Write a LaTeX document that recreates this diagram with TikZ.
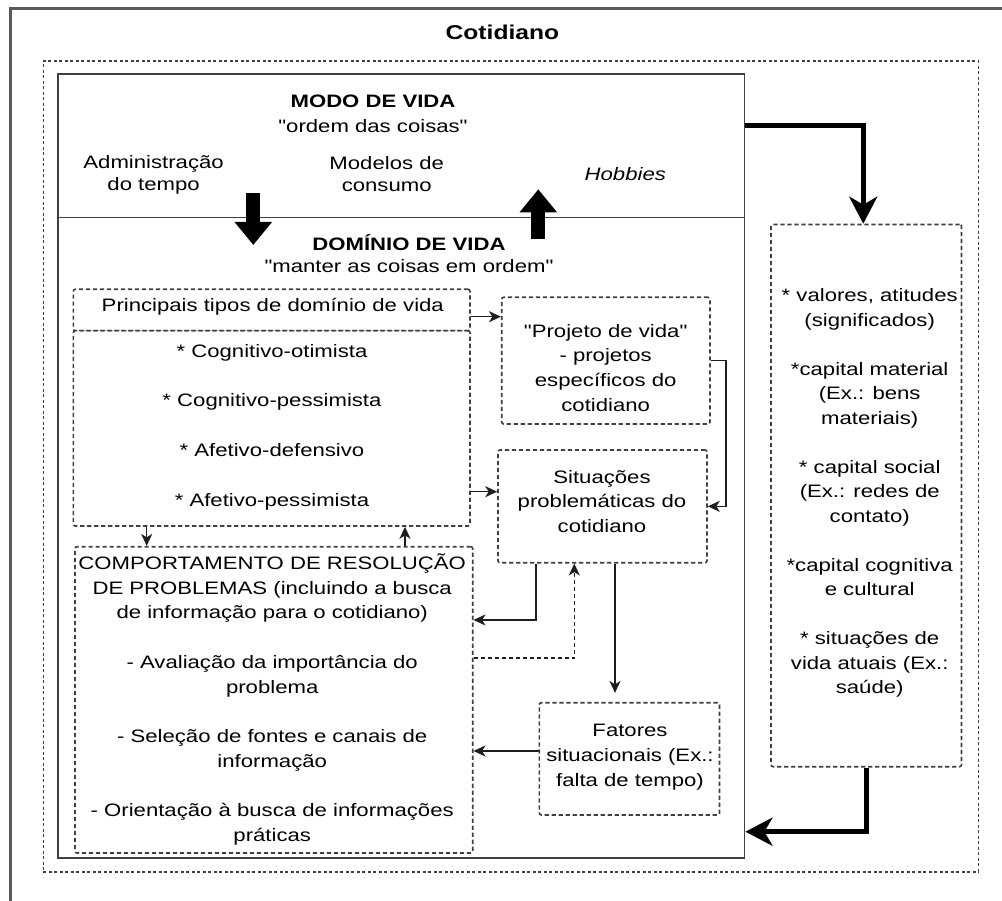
\documentclass[tikz,border=0pt]{standalone}
\usepackage{fontspec}
\setmainfont{Liberation Sans}[FakeStretch=1.23,Ligatures=TeXOff]
\usetikzlibrary{arrows.meta,fit}
\newcommand\fl{\rule{0pt}{17pt}}
\newcommand\fs{\fontsize{18}{24.7}\selectfont}
\definecolor{boxgray}{HTML}{404040}
\definecolor{linegray}{HTML}{1E1E1E}
\begin{document}
\begin{tikzpicture}[x=1pt,y=-1pt,
  txt/.style={inner sep=0pt,anchor=north,align=center,font=\fs,text=black},
  dbox/.style={draw=boxgray,line width=1.6pt,dash pattern=on 4.2pt off 2.8pt,rounded corners=2pt,inner sep=0pt},
  sbox/.style={draw=boxgray,line width=1.8pt,inner sep=0pt},
  conn/.style={draw=linegray,line width=1.4pt,-{Stealth[length=12pt,width=11pt,inset=3.5pt]}},
  dconn/.style={conn,dash pattern=on 4.2pt off 2.8pt},
  bigconn/.style={draw=black,line width=5.5pt,-{Stealth[length=27pt,width=28pt,inset=8pt]}},
  blockarrow/.style={draw=black,line width=14pt,-{Triangle[length=23pt,width=36pt]}},
]
\useasboundingbox (0,0) rectangle (1002,901);
\fill[white] (0,0) rectangle (1002,901);
% outer frame (cropped)
\draw[gray!70!black,line width=2.2pt] (1002,8.5) -- (10.5,8.5) -- (10.5,901);
\node[font=\fontsize{20}{24}\selectfont\bfseries,inner sep=0pt,anchor=base] (title) at (502.4,40) {Cotidiano};
% containers
\node[draw=boxgray,line width=1.6pt,dash pattern=on 3pt off 2.5pt,inner sep=0pt,fit={(43.3,61) (978.3,871.7)}] (cot) {};
\node[sbox,fit={(58,74) (744.5,858.3)}] (vida) {};
\coordinate (ydiv) at (0,217.5);
\draw[boxgray,line width=1.8pt] (vida.west |- ydiv) -- (vida.east |- ydiv);
% modo de vida texts
\node[txt] (modo) at (373,90.3) {\fl\bfseries MODO DE VIDA\\\mdseries "ordem das coisas"};
\node[txt,font=\fontsize{18}{22.4}\selectfont] (adm) at (153.6,151.3) {\fl Administração\\do tempo};
\node[txt,font=\fontsize{18}{22.4}\selectfont] (mod) at (386.7,152.3) {\fl Modelos de\\consumo};
\node[txt,font=\fs\itshape] (hob) at (625.3,163) {\fl Hobbies};
\draw[blockarrow] (253.3,193.3) -- (253.3,245);
\draw[blockarrow] (538.3,239.3) -- (538.3,189.3);
\node[txt,font=\fontsize{18}{22}\selectfont] (dom) at (409,233) {\fl\bfseries DOMÍNIO DE VIDA\\\mdseries "manter as coisas em ordem"};
% inner boxes
\node[dbox,fit={(73.3,289.3) (470,330.7)}] (pri) {};
\node[dbox,fit={(73.3,330.7) (470,526)}] (tipos) {};
\node[dbox,fit={(75,546.7) (472.7,853)}] (comp) {};
\node[dbox,fit={(501.7,297.3) (710,424)}] (proj) {};
\node[dbox,fit={(498,450) (707,562.7)}] (sit) {};
\node[dbox,fit={(539.3,702.7) (719.5,815)}] (fat) {};
\node[dbox,fit={(771,224.5) (961.5,766.7)}] (rec) {};
% box texts
\node[txt] (pritxt) at (272.8,294.7) {\fl Principais tipos de domínio de vida};
\node[txt] (tipostxt) at (272,340) {\fl * Cognitivo-otimista\\[25pt]* Cognitivo-pessimista\\[25pt]* Afetivo-defensivo\\[25pt]* Afetivo-pessimista};
\node[txt] (projtxt) at (605.7,320) {\fl "Projeto de vida"\\- projetos\\específicos do\\cotidiano};
\node[txt] (sittxt) at (602,466) {\fl Situações\\problemáticas do\\cotidiano};
\node[txt] (fattxt) at (630,719.7) {\fl Fatores\\situacionais (Ex.:\\falta de tempo)};
\node[txt] (comptxt) at (272.2,552.3) {\fl COMPORTAMENTO DE RESOLUÇÃO\\DE PROBLEMAS (incluindo a busca\\de informação para o cotidiano)\\[24.7pt]- Avaliação da importância do\\problema\\[24.7pt]- Seleção de fontes e canais de\\informação\\[24.7pt]- Orientação à busca de informações\\práticas};
\node[txt,font=\fontsize{18}{24.5}\selectfont] (rectxt) at (869.7,284.7) {\fl * valores, atitudes\\(significados)\\[24.5pt]*capital material\\(Ex.: bens\\materiais)\\[24.5pt]* capital social\\(Ex.: redes de\\contato)\\[24.5pt]*capital cognitiva\\e cultural\\[24.5pt]* situações de\\vida atuais (Ex.:\\saúde)};
% connectors
\draw[conn] ([yshift=-6.7pt]pri.east) coordinate (a1) -- (a1 -| proj.west);
\draw[conn] ([yshift=-63.35pt]tipos.east) coordinate (a2) -- (a2 -| sit.west);
\draw[conn] (proj.east) -- ++(15,0) |- (sit.east);
\draw[conn] ([xshift=-66.5pt]sit.south) |- ([yshift=79.85pt]comp.east);
\draw[dconn] ([yshift=41.85pt]comp.east) -| ([xshift=-28.2pt]sit.south);
\draw[conn,shorten >=9pt] ([xshift=12.5pt]sit.south) coordinate (a6) -- (a6 |- fat.north);
\draw[conn] ([yshift=7.85pt]fat.west) coordinate (a7) -- (a7 -| comp.east);
\draw[conn] ([xshift=-124.95pt]tipos.south) coordinate (a8) -- (a8 |- comp.north);
\draw[conn] ([xshift=131.15pt]comp.north) coordinate (a9) -- (a9 |- tipos.south);
\draw[bigconn] ([yshift=340.45pt]vida.east) -| ([xshift=-3pt]rec.north);
\draw[bigconn] (rec.south) |- ([yshift=-365.55pt]vida.east);
\end{tikzpicture}
\end{document}
